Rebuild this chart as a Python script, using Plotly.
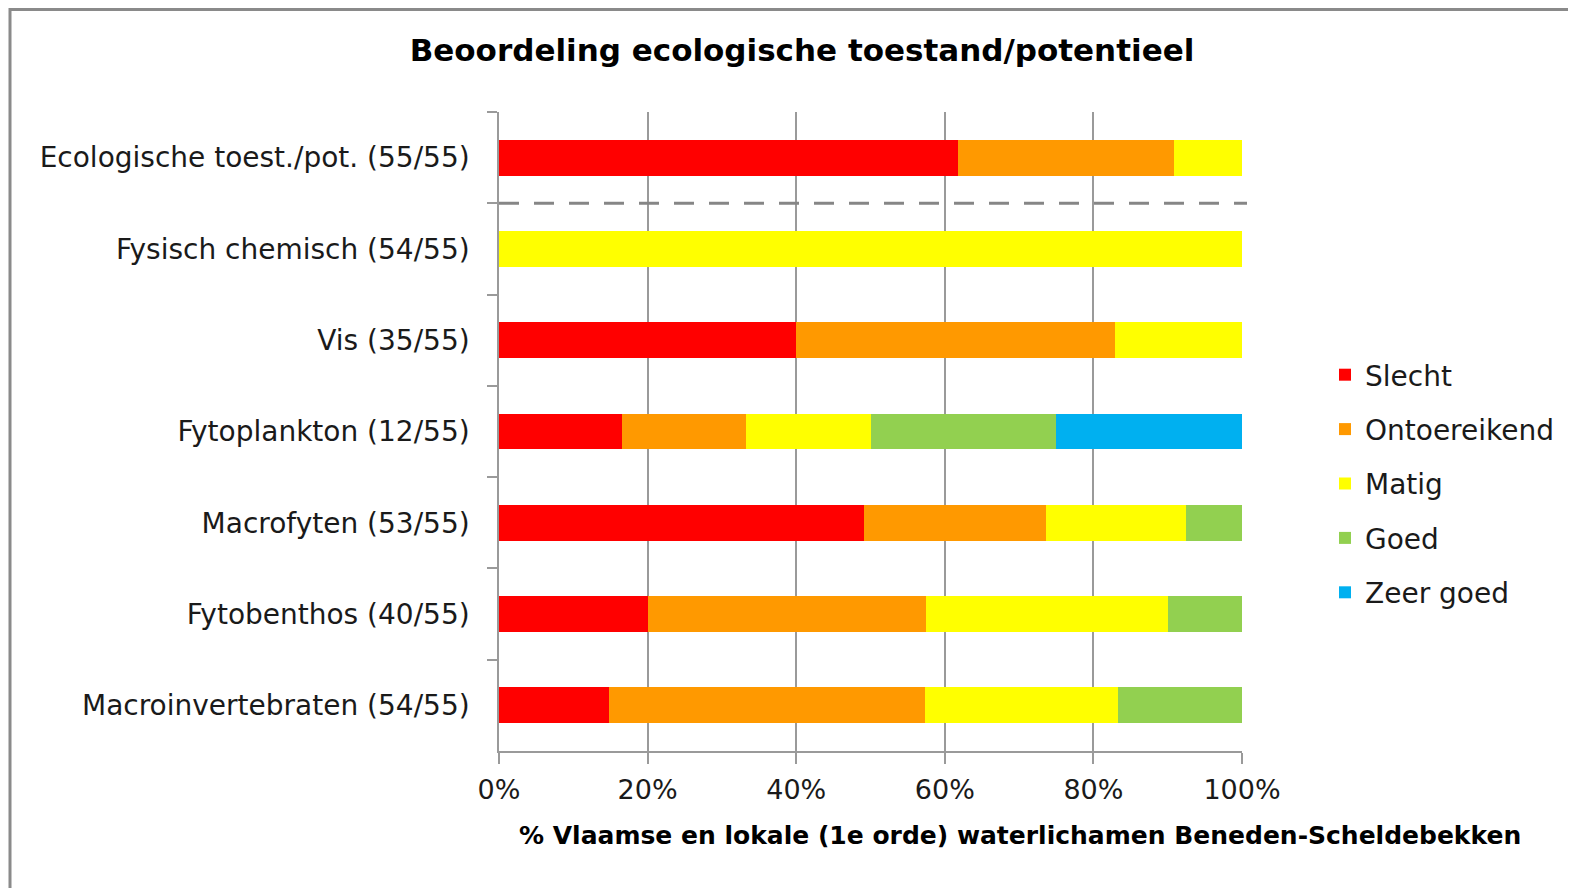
import plotly.graph_objects as go

categories = [
    "Ecologische toest./pot. (55/55)",
    "Fysisch chemisch (54/55)",
    "Vis (35/55)",
    "Fytoplankton (12/55)",
    "Macrofyten (53/55)",
    "Fytobenthos (40/55)",
    "Macroinvertebraten (54/55)",
]
slecht = [61.8, 0, 40.0, 16.6, 49.1, 20.0, 14.8]
ontoereikend = [29.1, 0, 42.9, 16.7, 24.5, 37.5, 42.6]
matig = [9.1, 100, 17.1, 16.7, 18.9, 32.5, 25.9]
goed = [0, 0, 0, 25.0, 7.5, 10.0, 16.7]
zeer_goed = [0, 0, 0, 25.0, 0, 0, 0]

series = [
    ("Slecht", slecht, "#FF0000"),
    ("Ontoereikend", ontoereikend, "#FF9900"),
    ("Matig", matig, "#FFFF00"),
    ("Goed", goed, "#92D050"),
    ("Zeer goed", zeer_goed, "#00B0F0"),
]

FONT = "DejaVu Sans"
W, H = 1576, 888
OFF = 8  # page body margin
L, R, T, B = 499, 1242, 112, 751  # plot area in page pixels

fig = go.Figure()
for name, vals, col in series:
    fig.add_trace(go.Bar(
        y=categories, x=vals, name=name, orientation="h",
        marker=dict(color=col, line=dict(width=0)),
        legendgroup=name,
    ))

def px_x(p):
    return (p - L) / (R - L)

def px_y(p):
    return (B - p) / (B - T)

TXT = "#1a1a1a"

fig.update_layout(
    width=W, height=H,
    margin=dict(l=L - OFF, r=W - (R - OFF), t=T - OFF, b=H - (B - OFF)),
    paper_bgcolor="white", plot_bgcolor="white",
    barmode="stack", bargap=0.606,
    font=dict(family=FONT, size=27, color=TXT),
    title=dict(
        text="<b>Beoordeling ecologische toestand/potentieel</b>",
        font=dict(family=FONT, size=31, color="#000000"),
        xref="container", yref="container",
        x=(802 - OFF) / W, y=1 - (50 - OFF) / H, xanchor="center", yanchor="middle",
    ),
    showlegend=True,
    legend=dict(
        x=px_x(1325), y=px_y(350), xanchor="left", yanchor="top",
        font=dict(family=FONT, size=28, color=TXT),
        tracegroupgap=15, bgcolor="rgba(0,0,0,0)",
    ),
    xaxis=dict(
        range=[0, 100], tickvals=[0, 20, 40, 60, 80, 100],
        ticktext=["0%", "20%", "40%", "60%", "80%", "100%"],
        showgrid=True, gridcolor="#9a9a9a", gridwidth=1.5,
        showline=True, linecolor="#9a9a9a", linewidth=1.5,
        ticks="outside", ticklen=11, tickcolor="#9a9a9a", tickwidth=1.5,
        zeroline=False, ticklabelstandoff=3,
        tickfont=dict(family=FONT, size=27, color=TXT),
        fixedrange=True,
    ),
    yaxis=dict(
        type="category", autorange="reversed",
        showline=True, linecolor="#9a9a9a", linewidth=1.5,
        ticks="outside", ticklen=10, tickcolor="#9a9a9a", tickwidth=1.5,
        tickson="boundaries", showgrid=False, zeroline=False,
        ticklabelstandoff=22,
        tickfont=dict(family=FONT, size=28, color=TXT),
        fixedrange=True,
    ),
)

# dashed separator between the overall assessment and the sub-elements
sep_y = 1 - 1 / len(categories)
fig.add_shape(type="line", xref="paper", yref="paper",
              x0=0, x1=px_x(1247), y0=sep_y, y1=sep_y,
              line=dict(color="#868686", width=3, dash="20px,15px"))

# outer chart border
fig.add_shape(type="rect", xref="paper", yref="paper",
              x0=px_x(10), x1=px_x(1640), y0=px_y(1000), y1=px_y(OFF + 1.5),
              line=dict(color="#8a8a8a", width=3), layer="below")

# x axis title
fig.add_annotation(
    text="<b>% Vlaamse en lokale (1e orde) waterlichamen Beneden-Scheldebekken</b>",
    xref="paper", yref="paper", x=px_x(1020), y=px_y(835),
    xanchor="center", yanchor="middle", showarrow=False,
    font=dict(family=FONT, size=25, color="#000000"),
)

fig.write_html("out.html")
